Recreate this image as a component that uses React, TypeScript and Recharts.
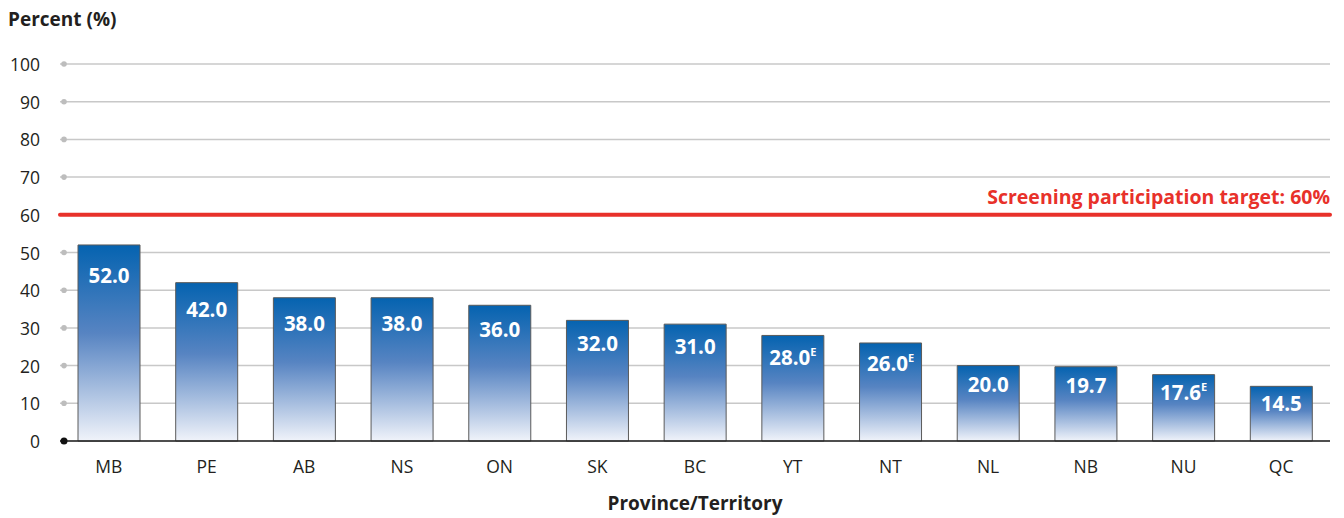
import { BarChart, Bar, XAxis, YAxis, CartesianGrid, ReferenceLine, LabelList } from "recharts";

const provinces = ["MB", "PE", "AB", "NS", "ON", "SK", "BC", "YT", "NT", "NL", "NB", "NU", "QC"];
const participation = [52.0, 42.0, 38.0, 38.0, 36.0, 32.0, 31.0, 28.0, 26.0, 20.0, 19.7, 17.6, 14.5];
// E = interpret with caution
const estimateFlags = [false, false, false, false, false, false, false, true, true, false, false, true, false];
const yTicks = [0, 10, 20, 30, 40, 50, 60, 70, 80, 90, 100];
const targetValue = 60;
const targetLabel = "Screening participation target: 60%";

const data = provinces.map((name, i) => ({
  name,
  value: participation[i],
  flag: estimateFlags[i],
}));

const FONT = "'Open Sans', Lato, sans-serif";
const TEXT = "#231f20";

const YTick = (props: any) => {
  const { y, payload } = props;
  const zero = payload.value === 0;
  // the target line covers its own gridline dot
  const showDot = payload.value !== targetValue;
  return (
    <g>
      {showDot && <circle cx={64} cy={y} r={zero ? 3.5 : 2.8} fill={zero ? "#111" : "#bdbdbd"} />}
      <text x={40} y={y + 7} textAnchor="end" fontSize={17.5} fontFamily={FONT} fill={TEXT}>
        {payload.value}
      </text>
    </g>
  );
};

const XTick = (props: any) => {
  const { x, y, payload } = props;
  return (
    <text x={x} y={y + 24} textAnchor="middle" fontSize={17.5} fontFamily={FONT} fill={TEXT}>
      {payload.value}
    </text>
  );
};

const BarValue = (props: any) => {
  const { x, y, width, height, index } = props;
  const v = participation[index];
  const flag = estimateFlags[index];
  return (
    <text
      x={x + width / 2}
      y={y + 19 + 0.097 * height}
      textAnchor="middle"
      fontSize={20.5}
      fontWeight={700}
      fontFamily={FONT}
      fill="#fff"
    >
      <tspan>{v.toFixed(1)}</tspan>
      {flag && (
        <tspan dy={-9} fontSize={11}>
          E
        </tspan>
      )}
    </text>
  );
};

const TargetLabel = (props: any) => {
  const { viewBox } = props;
  return (
    <text
      x={viewBox.x + viewBox.width}
      y={viewBox.y - 11}
      textAnchor="end"
      fontSize={19.5}
      fontWeight={700}
      fontFamily={FONT}
      fill="#e8312a"
    >
      {targetLabel}
    </text>
  );
};

export default function App() {
  return (
    <div style={{ position: "absolute", left: 0, top: 0, width: 1344, height: 518, background: "#fff" }}>
      <div
        style={{
          position: "absolute",
          left: 8,
          top: 6,
          fontFamily: FONT,
          fontWeight: 700,
          fontSize: 19,
          color: TEXT,
        }}
      >
        Percent (%)
      </div>
      <BarChart
        width={1344}
        height={518}
        data={data}
        margin={{ top: 64, right: 14, left: 0, bottom: 17 }}
      >
        <defs>
          <linearGradient id="barFill" x1="0" y1="0" x2="0" y2="1">
            <stop offset="0%" stopColor="#0563b0" />
            <stop offset="45%" stopColor="#5784c2" />
            <stop offset="100%" stopColor="#f0f3fa" />
          </linearGradient>
        </defs>
        <CartesianGrid vertical={false} stroke="#c8c8c8" strokeWidth={1.5} />
        <XAxis
          dataKey="name"
          height={60}
          axisLine={{ stroke: "#222", strokeWidth: 1.5 }}
          tickLine={false}
          tick={<XTick />}
          interval={0}
        />
        <YAxis
          width={60}
          domain={[0, 100]}
          ticks={yTicks}
          axisLine={false}
          tickLine={false}
          tick={<YTick />}
        />
        <Bar dataKey="value" barSize={62} fill="url(#barFill)" stroke="#5a5a5a" strokeWidth={1} isAnimationActive={false}>
          <LabelList dataKey="value" content={<BarValue />} />
        </Bar>
        <ReferenceLine
          y={targetValue}
          stroke="#e8312a"
          strokeWidth={4}
          strokeLinecap="round"
          label={<TargetLabel />}
        />
      </BarChart>
      <div
        style={{
          position: "absolute",
          left: 60,
          width: 1270,
          top: 490,
          textAlign: "center",
          fontFamily: FONT,
          fontWeight: 700,
          fontSize: 19,
          color: TEXT,
        }}
      >
        Province/Territory
      </div>
    </div>
  );
}
